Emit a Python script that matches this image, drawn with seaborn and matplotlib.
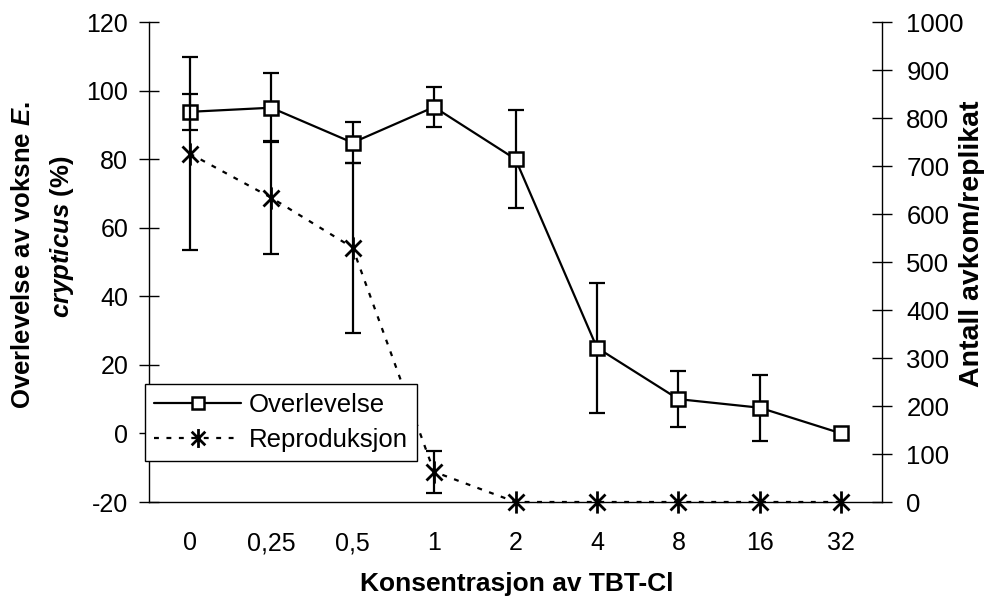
import numpy as np
import pandas as pd
import matplotlib
matplotlib.use("Agg")
import matplotlib.pyplot as plt
import seaborn as sns
from matplotlib.path import Path

# ---- data ----
concentrations = ["0", "0,25", "0,5", "1", "2", "4", "8", "16", "32"]
survival = [93.8, 95.0, 84.8, 95.2, 80.0, 25.0, 10.0, 7.5, 0.0]
survival_err = [5.3, 10.0, 6.0, 5.7, 14.2, 19.0, 8.1, 9.6, 0.0]
reproduction = [726, 634, 530, 63, 0, 0, 0, 0, 0]
reproduction_err = [202, 118, 177, 44, 0, 0, 0, 0, 0]

left_ticks = [-20, 0, 20, 40, 60, 80, 100, 120]
right_ticks = [0, 100, 200, 300, 400, 500, 600, 700, 800, 900, 1000]

sns.set_theme(style="white")
plt.rcParams["font.family"] = ["Liberation Sans", "DejaVu Sans"]
plt.rcParams["text.color"] = "black"
plt.rcParams["mathtext.fontset"] = "custom"
plt.rcParams["mathtext.rm"] = "Liberation Sans:bold"
plt.rcParams["mathtext.it"] = "Liberation Sans:bold:italic"
plt.rcParams["mathtext.bf"] = "Liberation Sans:bold"

df = pd.DataFrame({"conc": concentrations, "surv": survival, "repr": reproduction})
xpos = np.arange(len(concentrations))

fig = plt.figure(figsize=(9.86, 6.01), dpi=100)
ax = fig.add_axes([149 / 986, 1 - 502 / 601, (882 - 149) / 986, (502 - 22) / 601])
ax2 = ax.twinx()

# asterisk marker
ast = Path([(0, -1), (0, 1), (-0.72, -0.72), (0.72, 0.72), (-0.72, 0.72), (0.72, -0.72)],
           [Path.MOVETO, Path.LINETO] * 3)

sns.lineplot(data=df, x="conc", y="surv", ax=ax, sort=False, color="black",
             linewidth=1.6, marker="s", markersize=10.5, markerfacecolor="white",
             markeredgecolor="black", markeredgewidth=1.8, zorder=4, clip_on=False)
surv_line = ax.lines[-1]
mask = np.array(survival_err) > 0
ax.errorbar(xpos[mask], np.array(survival)[mask], yerr=np.array(survival_err)[mask],
            fmt="none", ecolor="black", elinewidth=1.6, capsize=5.5, capthick=1.6, zorder=3)

sns.lineplot(data=df, x="conc", y="repr", ax=ax2, sort=False, color="black",
             linewidth=1.6, linestyle=(0, (2.2, 3.4)), marker=ast, markersize=16,
             markerfacecolor="none", markeredgecolor="black", markeredgewidth=2.0,
             zorder=4, clip_on=False)
repr_line = ax2.lines[-1]
mask2 = np.array(reproduction_err) > 0
ax2.errorbar(xpos[mask2], np.array(reproduction)[mask2], yerr=np.array(reproduction_err)[mask2],
             fmt="none", ecolor="black", elinewidth=1.6, capsize=5.5, capthick=1.6, zorder=3)

# axes limits & ticks
ax.set_xlim(-0.5, len(concentrations) - 0.5)
ax.set_ylim(-20, 120)
ax2.set_ylim(0, 1000)
ax.set_yticks(left_ticks)
ax.set_yticklabels([str(t) for t in left_ticks])
ax2.set_yticks(right_ticks)
ax2.set_yticklabels([str(t) for t in right_ticks])

ax.set_xticks(np.arange(-0.5, len(concentrations), 1.0))
ax.set_xticklabels([])
ax.set_xticks(xpos, minor=True)
ax.set_xticklabels(concentrations, minor=True)
ax.tick_params(axis="x", which="major", direction="inout", length=14, width=1, color="black")
ax.tick_params(axis="x", which="minor", length=0, pad=21, labelsize=18, labelcolor="black")
ax.tick_params(axis="y", direction="inout", length=14, width=1, color="black",
               labelsize=18, labelcolor="black", pad=8, left=True)
ax2.tick_params(axis="y", direction="inout", length=15, width=1, color="black",
                labelsize=18.5, labelcolor="black", pad=10, right=True)

for a in (ax, ax2):
    for s in a.spines.values():
        s.set_color("black")
        s.set_linewidth(1.0)
    a.set_facecolor("none")
    a.grid(False)
ax.spines["top"].set_visible(False)
ax.spines["right"].set_visible(False)
ax2.spines["top"].set_visible(False)
ax2.spines["left"].set_visible(False)
ax2.spines["bottom"].set_visible(False)
ax.set_xlabel("")
ax.set_ylabel("")
ax2.set_ylabel("")

# axis titles
fig.text(517 / 986, 1 - 584 / 601, "Konsentrasjon av TBT-Cl", ha="center", va="center",
         fontsize=19, fontweight="bold", color="black")
fig.text(23 / 986, 1 - 255 / 601, r"Overlevelse av voksne $\mathit{E.}$", rotation=90,
         ha="center", va="center", fontsize=18.5, fontweight="bold", color="black")
fig.text(62 / 986, 1 - 237 / 601, r"$\mathit{crypticus}$ (%)", rotation=90,
         ha="center", va="center", fontsize=18.5, fontweight="bold", color="black")
fig.text(972 / 986, 1 - 244 / 601, "Antall avkom/replikat", rotation=90,
         ha="center", va="center", fontsize=20.5, fontweight="bold", color="black")

# legend
leg = ax2.legend([surv_line, repr_line], ["Overlevelse", "Reproduksjon"],
                 loc="upper left", bbox_to_anchor=(145 / 986, 1 - 384 / 601),
                 bbox_transform=fig.transFigure, borderaxespad=0, fontsize=18.5,
                 frameon=True, fancybox=False, edgecolor="black", framealpha=1,
                 handlelength=3.4, handletextpad=0.3, borderpad=0.35, labelspacing=0.42,
                 markerscale=0.85, labelcolor="black")
leg.get_frame().set_linewidth(1.0)
leg.set_zorder(10)

fig.savefig("out.png", dpi=100, facecolor="white")
